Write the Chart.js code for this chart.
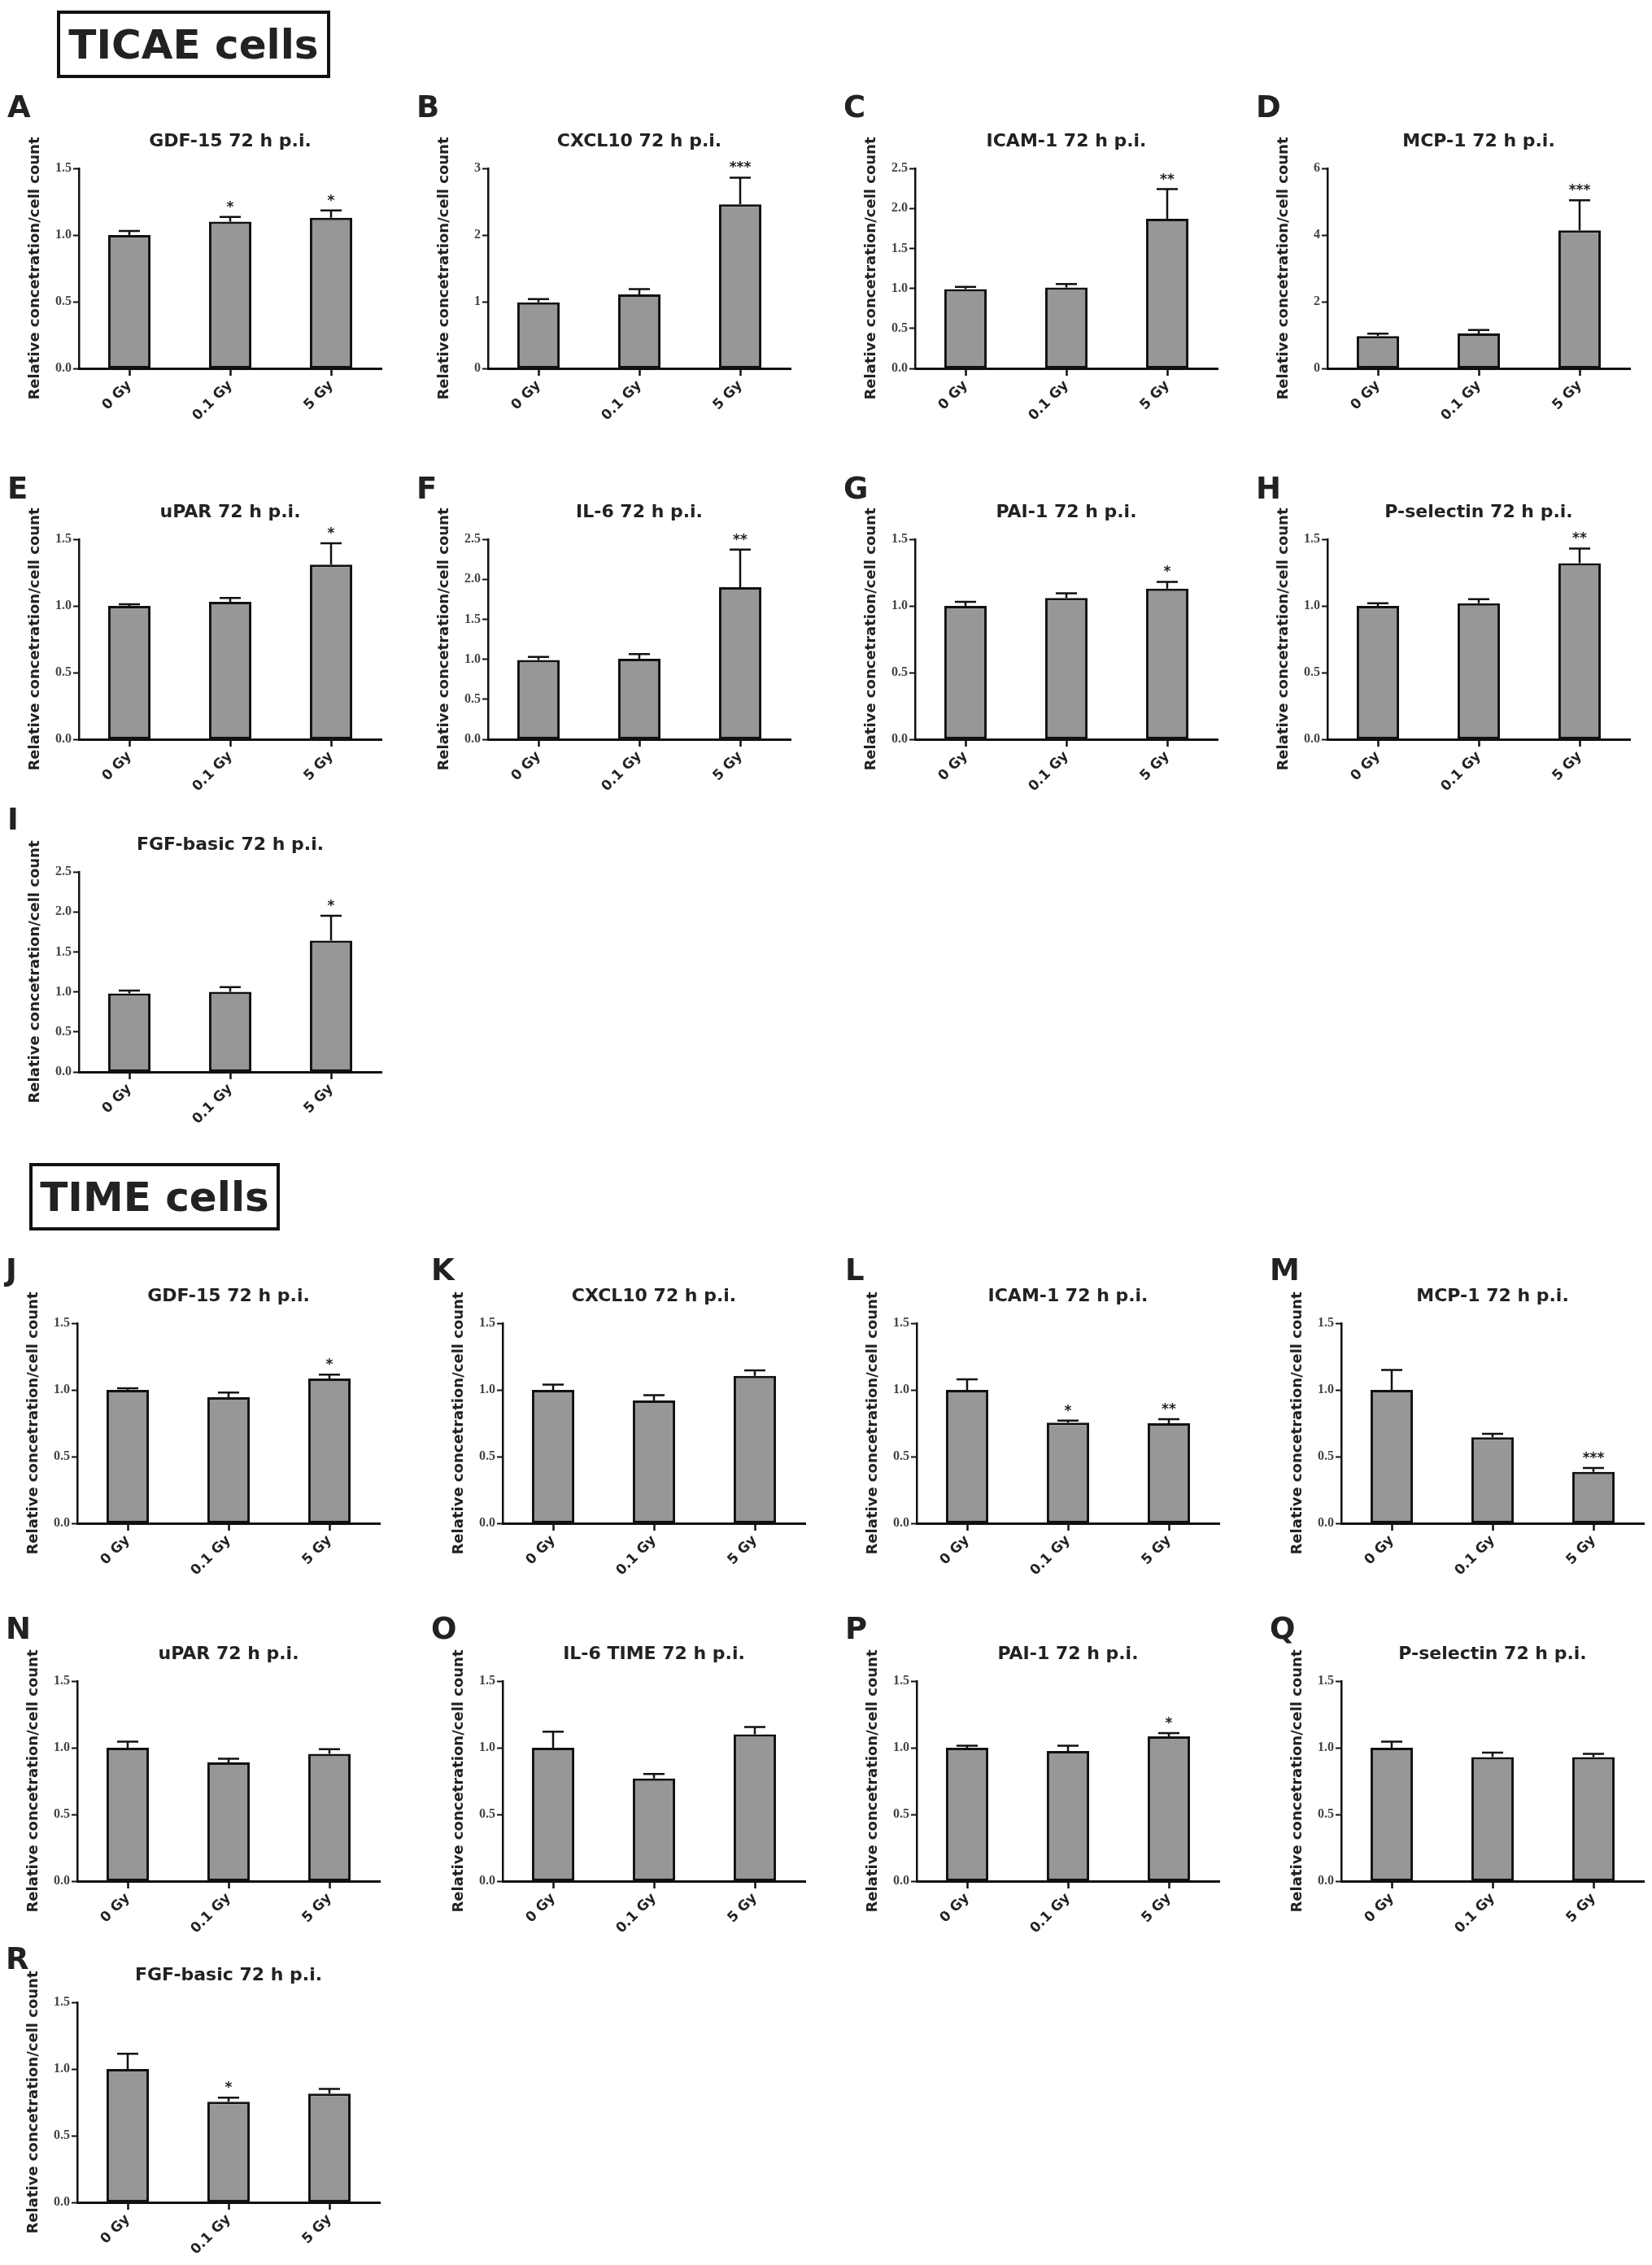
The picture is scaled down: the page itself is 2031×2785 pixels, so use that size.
<!DOCTYPE html>
<html>
<head>
<meta charset="utf-8">
<title>TICAE / TIME cells</title>
<script src="https://cdn.jsdelivr.net/npm/chart.js@4.4.1/dist/chart.umd.min.js"></script>
<style>
  body { margin: 0; background: #fff; width: 2031px; height: 2785px; position: relative; overflow: hidden; }
  .cellbox {
    position: absolute; box-sizing: border-box; border: 4px solid #111;
    font-family: "DejaVu Sans", sans-serif; font-weight: bold; font-size: 50px; color: #222;
    display: flex; align-items: center; justify-content: center;
  }
  .panel { position: absolute; }
</style>
</head>
<body>
<div class="cellbox" style="left:70px; top:13px; width:336px; height:83px;">TICAE cells</div>
<div class="cellbox" style="left:36px; top:1430px; width:308px; height:83px;">TIME cells</div>

<script>
// x categories
const doses = ["0 Gy", "0.1 Gy", "5 Gy"];

// TICAE cells (panels A-I)
const ticaeLetters = ["A", "B", "C", "D", "E", "F", "G", "H", "I"];
const ticaeTitles = [
    "GDF-15 72 h p.i.", "CXCL10 72 h p.i.", "ICAM-1 72 h p.i.", "MCP-1 72 h p.i.",
    "uPAR 72 h p.i.", "IL-6 72 h p.i.", "PAI-1 72 h p.i.", "P-selectin 72 h p.i.",
    "FGF-basic 72 h p.i.",
];
const ticaeMean = [
    [1.00, 1.10, 1.13],
    [0.99, 1.11, 2.46],
    [0.99, 1.01, 1.87],
    [0.97, 1.05, 4.14],
    [1.00, 1.03, 1.31],
    [0.99, 1.005, 1.90],
    [1.00, 1.06, 1.13],
    [1.00, 1.02, 1.32],
    [0.98, 1.00, 1.64],
];
const ticaeSem = [
    [0.03, 0.035, 0.055],
    [0.05, 0.08, 0.40],
    [0.03, 0.045, 0.37],
    [0.07, 0.10, 0.90],
    [0.012, 0.03, 0.16],
    [0.04, 0.06, 0.47],
    [0.03, 0.035, 0.05],
    [0.02, 0.03, 0.11],
    [0.035, 0.06, 0.31],
];
const ticaeSig = [
    ["", "*", "*"], ["", "", "***"], ["", "", "**"], ["", "", "***"],
    ["", "", "*"], ["", "", "**"], ["", "", "*"], ["", "", "**"], ["", "", "*"],
];
const ticaeYMax = [1.5, 3, 2.5, 6, 1.5, 2.5, 1.5, 1.5, 2.5];
const ticaeYStep = [0.5, 1, 0.5, 2, 0.5, 0.5, 0.5, 0.5, 0.5];

// TIME cells (panels J-R)
const timeLetters = ["J", "K", "L", "M", "N", "O", "P", "Q", "R"];
const timeTitles = [
    "GDF-15 72 h p.i.", "CXCL10 72 h p.i.", "ICAM-1 72 h p.i.", "MCP-1 72 h p.i.",
    "uPAR 72 h p.i.", "IL-6 TIME 72 h p.i.", "PAI-1 72 h p.i.", "P-selectin 72 h p.i.",
    "FGF-basic 72 h p.i.",
];
const timeMean = [
    [1.00, 0.945, 1.085],
    [1.00, 0.92, 1.105],
    [1.00, 0.755, 0.75],
    [1.00, 0.645, 0.385],
    [1.00, 0.89, 0.955],
    [1.00, 0.77, 1.10],
    [1.00, 0.975, 1.085],
    [1.00, 0.93, 0.93],
    [1.00, 0.755, 0.815],
];
const timeSem = [
    [0.012, 0.035, 0.03],
    [0.04, 0.04, 0.042],
    [0.08, 0.015, 0.03],
    [0.15, 0.025, 0.03],
    [0.045, 0.027, 0.035],
    [0.12, 0.033, 0.056],
    [0.016, 0.04, 0.025],
    [0.045, 0.033, 0.025],
    [0.115, 0.03, 0.035],
];
const timeSig = [
    ["", "", "*"], ["", "", ""], ["", "*", "**"], ["", "", "***"],
    ["", "", ""], ["", "", ""], ["", "", "*"], ["", "", ""], ["", "*", ""],
];
const timeYMax = [1.5, 1.5, 1.5, 1.5, 1.5, 1.5, 1.5, 1.5, 1.5];
const timeYStep = [0.5, 0.5, 0.5, 0.5, 0.5, 0.5, 0.5, 0.5, 0.5];

// page layout: where each panel's y axis sits (left edge, top tick)
const ticaeAxisLeft = [97, 600, 1125, 1632];
const timeAxisLeft = [95, 618, 1127, 1649];
const ticaeRowTop = [207, 663, 1072];
const timeRowTop = [1627, 2067, 2462];
const ticaeLetterLift = [73, 60, 62];
const timeLetterLift = [63, 62, 51];

const PAD_LEFT = 100;
const PAD_TOP = 100;
const AXIS_W = 372;
const AXIS_H = 246;
const BOTTOM_H = 90;
const SANS = "'DejaVu Sans', sans-serif";

// error bars, asterisks, titles and panel letters
const panelDecor = {
    id: "panelDecor",
    afterDatasetsDraw(chart, args, opts) {
        const ctx = chart.ctx;
        const area = chart.chartArea;
        const yScale = chart.scales.y;
        const meta = chart.getDatasetMeta(0);

        ctx.save();
        ctx.strokeStyle = "#111";
        ctx.fillStyle = "#222";
        ctx.lineWidth = 2.5;
        meta.data.forEach((bar, i) => {
            const top = yScale.getPixelForValue(opts.mean[i] + opts.sem[i]);
            const half = bar.width * 0.25;
            ctx.beginPath();
            ctx.moveTo(bar.x, bar.y);
            ctx.lineTo(bar.x, top);
            ctx.moveTo(bar.x - half, top);
            ctx.lineTo(bar.x + half, top);
            ctx.stroke();
            if (opts.sig[i]) {
                ctx.font = "bold 17px " + SANS;
                ctx.textAlign = "center";
                ctx.textBaseline = "alphabetic";
                ctx.fillText(opts.sig[i], bar.x, top - 7);
            }
        });

        // panel title
        ctx.fillStyle = "#222";
        ctx.font = "bold 22px " + SANS;
        ctx.textAlign = "center";
        ctx.textBaseline = "middle";
        ctx.fillText(opts.title, (area.left + area.right) / 2, area.top - 33);

        // y axis title
        ctx.save();
        ctx.translate(area.left - 54, (area.top + area.bottom) / 2);
        ctx.rotate(-Math.PI / 2);
        ctx.font = "bold 18px " + SANS;
        ctx.fillText("Relative concetration/cell count", 0, 0);
        ctx.restore();

        // panel letter
        ctx.font = "bold 37px " + SANS;
        ctx.textAlign = "left";
        ctx.fillText(opts.letter, area.left - 88, area.top - opts.letterLift);
        ctx.restore();
    },
};

function makePanel(left, top, letter, title, mean, sem, sig, yMax, yStep, letterLift) {
    const div = document.createElement("div");
    div.className = "panel";
    div.style.left = (left - PAD_LEFT) + "px";
    div.style.top = (top - PAD_TOP) + "px";
    const canvas = document.createElement("canvas");
    canvas.width = PAD_LEFT + AXIS_W + 12;
    canvas.height = PAD_TOP + AXIS_H + BOTTOM_H;
    div.appendChild(canvas);
    document.body.appendChild(div);

    new Chart(canvas.getContext("2d"), {
        type: "bar",
        data: {
            labels: doses,
            datasets: [
                {
                    data: mean,
                    backgroundColor: "#979797",
                    borderColor: "#111",
                    borderWidth: 3,
                    borderSkipped: false,
                    barPercentage: 0.42,
                    categoryPercentage: 1,
                },
            ],
        },
        options: {
            responsive: false,
            animation: false,
            layout: { padding: { top: PAD_TOP, right: 12, left: 0, bottom: 0 } },
            plugins: {
                legend: { display: false },
                tooltip: { enabled: false },
                panelDecor: { letter, title, mean, sem, sig, letterLift },
            },
            scales: {
                x: {
                    afterFit: (s) => { s.height = BOTTOM_H; },
                    border: { display: true, color: "#111", width: 3 },
                    grid: {
                        display: true,
                        drawOnChartArea: false,
                        offset: false,
                        tickLength: 9,
                        tickWidth: 2.5,
                        tickColor: "#111",
                    },
                    ticks: {
                        minRotation: 45,
                        maxRotation: 45,
                        padding: 2,
                        color: "#222",
                        font: { family: SANS, weight: "bold", size: 17 },
                    },
                },
                y: {
                    min: 0,
                    max: yMax,
                    afterFit: (s) => { s.width = PAD_LEFT; },
                    border: { display: true, color: "#111", width: 2.5 },
                    grid: {
                        display: true,
                        drawOnChartArea: false,
                        tickLength: 7,
                        tickWidth: 2,
                        tickColor: "#111",
                    },
                    ticks: {
                        stepSize: yStep,
                        padding: 2,
                        color: "#444",
                        font: { family: "'Liberation Serif', serif", weight: "bold", size: 16 },
                        callback: (v) => (yStep < 1 ? v.toFixed(1) : String(v)),
                    },
                },
            },
        },
        plugins: [panelDecor],
    });
}

for (let i = 0; i < 9; i++) {
    const row = Math.floor(i / 4);
    const col = i % 4;
    makePanel(ticaeAxisLeft[col], ticaeRowTop[row], ticaeLetters[i], ticaeTitles[i],
        ticaeMean[i], ticaeSem[i], ticaeSig[i], ticaeYMax[i], ticaeYStep[i], ticaeLetterLift[row]);
    makePanel(timeAxisLeft[col], timeRowTop[row], timeLetters[i], timeTitles[i],
        timeMean[i], timeSem[i], timeSig[i], timeYMax[i], timeYStep[i], timeLetterLift[row]);
}
</script>
</body>
</html>
